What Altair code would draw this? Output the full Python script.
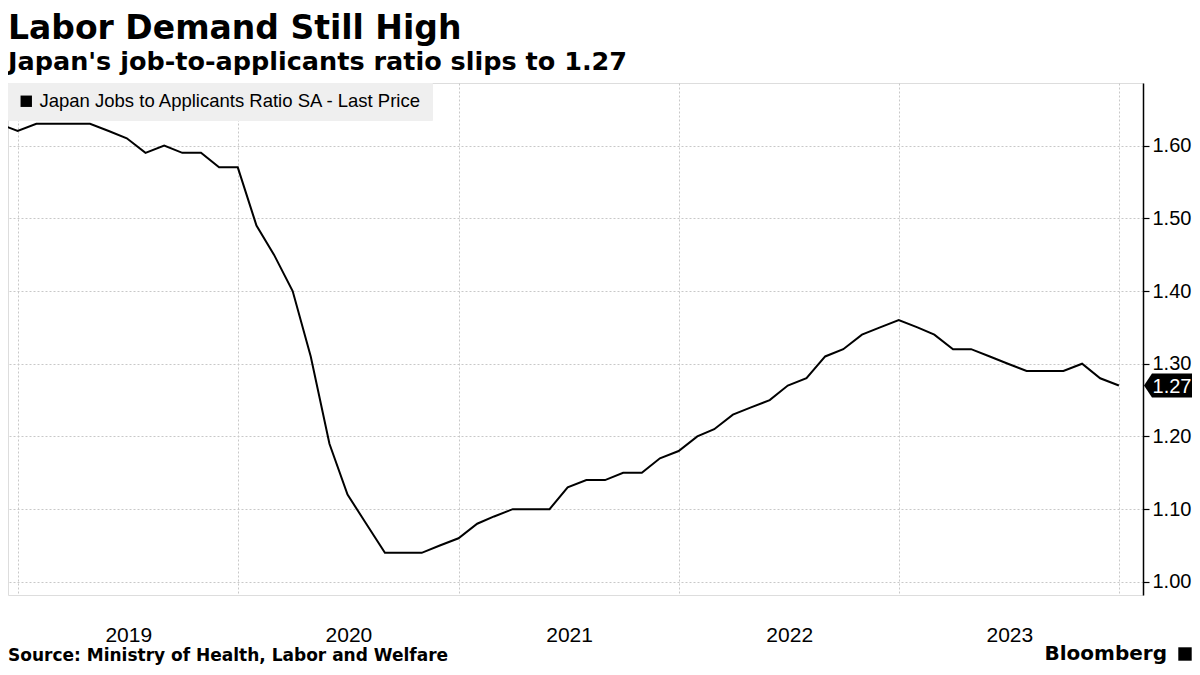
import altair as alt
import pandas as pd

# ---------------- data ----------------
months = [
    "2018-11", "2018-12",
    "2019-01", "2019-02", "2019-03", "2019-04", "2019-05", "2019-06",
    "2019-07", "2019-08", "2019-09", "2019-10", "2019-11", "2019-12",
    "2020-01", "2020-02", "2020-03", "2020-04", "2020-05", "2020-06",
    "2020-07", "2020-08", "2020-09", "2020-10", "2020-11", "2020-12",
    "2021-01", "2021-02", "2021-03", "2021-04", "2021-05", "2021-06",
    "2021-07", "2021-08", "2021-09", "2021-10", "2021-11", "2021-12",
    "2022-01", "2022-02", "2022-03", "2022-04", "2022-05", "2022-06",
    "2022-07", "2022-08", "2022-09", "2022-10", "2022-11", "2022-12",
    "2023-01", "2023-02", "2023-03", "2023-04", "2023-05", "2023-06",
    "2023-07", "2023-08", "2023-09", "2023-10", "2023-11", "2023-12",
]
ratio = [
    1.63, 1.62,
    1.63, 1.63, 1.63, 1.63, 1.62, 1.61, 1.59, 1.60, 1.59, 1.59, 1.57, 1.57,
    1.49, 1.45, 1.40, 1.31, 1.19, 1.12, 1.08, 1.04, 1.04, 1.04, 1.05, 1.06,
    1.08, 1.09, 1.10, 1.10, 1.10, 1.13, 1.14, 1.14, 1.15, 1.15, 1.17, 1.18,
    1.20, 1.21, 1.23, 1.24, 1.25, 1.27, 1.28, 1.31, 1.32, 1.34, 1.35, 1.36,
    1.35, 1.34, 1.32, 1.32, 1.31, 1.30, 1.29, 1.29, 1.29, 1.30, 1.28, 1.27,
]
series_name = "Japan Jobs to Applicants Ratio SA - Last Price"
year_ticks = [2019, 2020, 2021, 2022, 2023, 2024]
y_ticks = [1.00, 1.05, 1.10, 1.15, 1.20, 1.25, 1.30, 1.35, 1.40, 1.45, 1.50, 1.55, 1.60, 1.65]

title_text = "Labor Demand Still High"
subtitle_text = "Japan's job-to-applicants ratio slips to 1.27"
source_text = "Source: Ministry of Health, Labor and Welfare"
brand_text = "Bloomberg"

# month-end dates
dates = [pd.Period(m, freq="M").end_time.normalize() for m in months]
df = pd.DataFrame({"date": dates, "ratio": ratio, "series": series_name})
last = df.tail(1)

# ---------------- layout ----------------
W, H = 1135, 512
NARROW = "Liberation Sans Narrow, Liberation Sans, sans-serif"
BOLD = "DejaVu Sans"
GRID = "#c8c8c8"

x_enc = alt.X(
    "date:T",
    scale=alt.Scale(domain=[alt.DateTime(year=2018, month=12, date=15),
                            alt.DateTime(year=2024, month=2, date=9)]),
    axis=alt.Axis(
        values=[alt.DateTime(year=y, month=1, date=1) for y in year_ticks],
        grid=True, gridDash=[2, 2], gridColor=GRID, gridWidth=1,
        domain=False, ticks=False,
        labelExpr="year(datum.value) >= 2024 ? '' : timeFormat(datum.value, '%Y')",
        labelOffset=110, labelPadding=29, labelFont=NARROW, labelFontSize=21,
        labelColor="black", labelOverlap=False, labelFlush=False, title=None,
    ),
)
y_scale = alt.Scale(domain=[0.982, 1.686], nice=False, zero=False)
y_enc = alt.Y(
    "ratio:Q",
    scale=y_scale,
    axis=alt.Axis(
        orient="right", values=y_ticks,
        labelExpr="round(datum.value*100) % 10 == 0 ? format(datum.value, '.2f') : ''",
        grid=True, gridDash=[2, 2], gridColor=GRID, gridWidth=1,
        gridOpacity={"condition": {"test": "round(datum.value*100) % 10 == 0", "value": 1}, "value": 0},
        domain=True, domainColor="black", domainWidth=1.5,
        ticks=True, tickColor="black", tickSize=6, tickWidth=1.2,
        labelPadding=3, labelFont=NARROW, labelFontSize=20, labelColor="black",
        labelOverlap=False, title=None,
    ),
)

line = alt.Chart(df).mark_line(clip=True, strokeWidth=2).encode(
    x=x_enc,
    y=y_enc,
    color=alt.Color(
        "series:N",
        scale=alt.Scale(range=["black"]),
        legend=alt.Legend(
            orient="top-left", title=None, offset=0, padding=9,
            fillColor="#efefef", strokeColor="#efefef",
            symbolType="square", symbolFillColor="black", symbolStrokeColor="black",
            symbolSize=130, symbolStrokeWidth=0, symbolOffset=0,
            labelFont=NARROW, labelFontSize=18.5, labelColor="black", labelLimit=800,
            labelOffset=4,
        ),
    ),
)

TAG = "M-1,0L-0.667,-0.5L1,-0.5L1,0.5L-0.667,0.5Z"
tag = alt.Chart(last).mark_point(
    shape=TAG, filled=True, color="black", opacity=1, size=48 * 48, strokeWidth=0
).encode(x=alt.value(W + 25), y=alt.Y("ratio:Q", scale=y_scale))

tag_text = alt.Chart(last).mark_text(
    color="white", font=NARROW, fontSize=20, align="center", baseline="middle", dy=1
).encode(x=alt.value(W + 29), y=alt.Y("ratio:Q", scale=y_scale),
         text=alt.Text("ratio:Q", format=".2f"))

source = alt.Chart(pd.DataFrame({"t": [source_text]})).mark_text(
    font=BOLD, fontWeight="bold", fontSize=17, align="left", baseline="alphabetic",
    color="black"
).encode(x=alt.value(0), y=alt.value(H + 66), text="t:N")

brand = alt.Chart(pd.DataFrame({"t": [brand_text]})).mark_text(
    font=BOLD, fontWeight="bold", fontSize=20, align="right", baseline="alphabetic",
    color="black"
).encode(x=alt.value(W + 24), y=alt.value(H + 65), text="t:N")

icon = alt.Chart(pd.DataFrame({"t": [brand_text]})).mark_point(
    shape="square", filled=True, color="black", opacity=1, size=180
).encode(x=alt.value(W + 42), y=alt.value(H + 59))

chart = alt.layer(line, tag, tag_text, source, brand, icon).properties(
    width=W,
    height=H,
    autosize=alt.AutoSizeParams(type="none"),
    padding={"left": 0, "top": 75, "right": 49, "bottom": 72},
    title=alt.TitleParams(
        text=title_text, subtitle=subtitle_text, anchor="start", frame="group",
        font=BOLD, fontSize=33, fontWeight="bold", color="black",
        subtitleFont=BOLD, subtitleFontSize=25.5, subtitleFontWeight="bold",
        subtitleColor="black", subtitlePadding=4, offset=7,
    ),
).configure_view(stroke=None).configure(background="white")

chart.save("out.html", embed_options={"renderer": "svg", "actions": False})
